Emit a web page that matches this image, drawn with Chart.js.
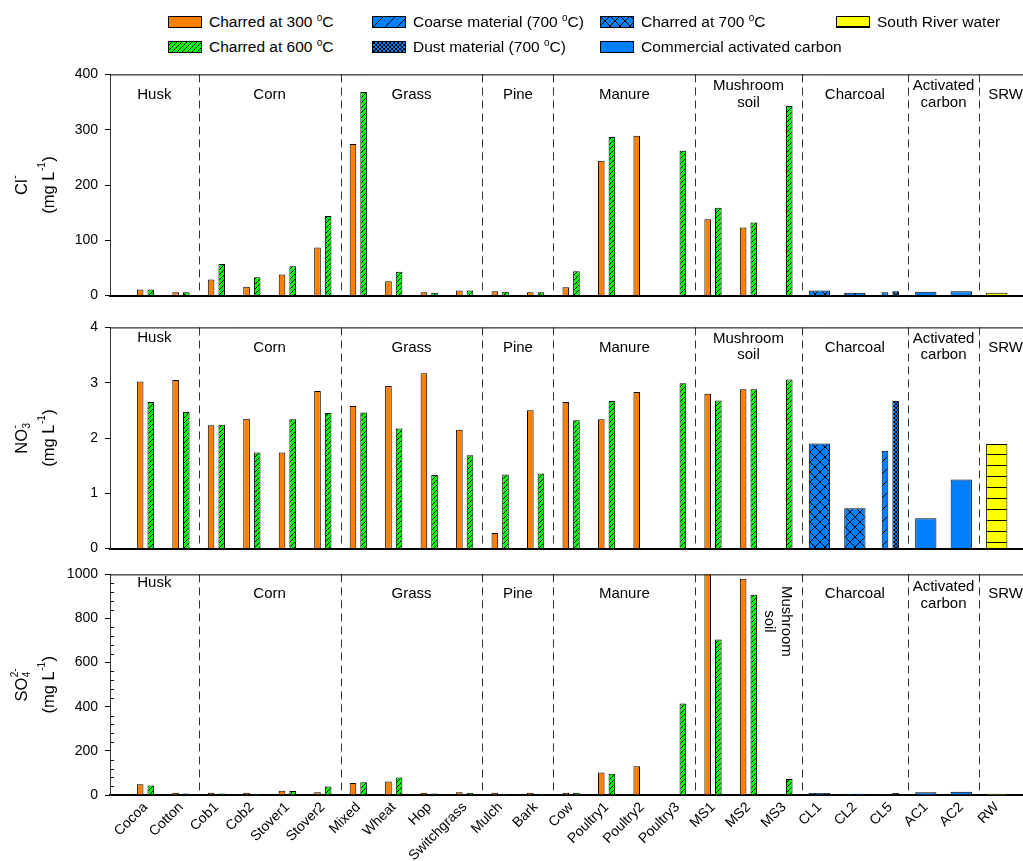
<!DOCTYPE html>
<html>
<head>
<meta charset="utf-8">
<title>Anions released by biochars</title>
<script src="https://cdn.jsdelivr.net/npm/chart.js@4.4.1/dist/chart.umd.min.js"></script>
<style>
  body { margin: 0; background: #fff; font-family: "Liberation Sans", Arial, sans-serif; overflow: hidden; }
  #wrap { position: relative; width: 1023px; height: 861px; overflow: hidden; }
  #wrap > canvas { position: absolute; left: 0; }
  .lg { position: absolute; font-size: 15.5px; line-height: 16px; color: #000; white-space: nowrap; }
  .lg canvas { vertical-align: -1px; margin-right: 7px; }
  .lg sup { font-size: 10px; vertical-align: 6px; line-height: 0; }
</style>
</head>
<body>
<div id="wrap">
  <div id="legend"></div>
  <canvas id="chartCl" width="1023" height="252" style="top:59px"></canvas>
  <canvas id="chartNo3" width="1023" height="252" style="top:312px"></canvas>
  <canvas id="chartSo4" width="1023" height="302" style="top:559px"></canvas>
</div>
<script>
'use strict';
var n = null;
var categories = ['Cocoa', 'Cotton', 'Cob1', 'Cob2', 'Stover1', 'Stover2', 'Mixed', 'Wheat', 'Hop', 'Switchgrass',
	'Mulch', 'Bark', 'Cow', 'Poultry1', 'Poultry2', 'Poultry3', 'MS1', 'MS2', 'MS3', 'CL1', 'CL2', 'CL5', 'AC1', 'AC2', 'RW'];
var groupNames = ['Husk', 'Corn', 'Grass', 'Pine', 'Manure', 'Mushroom\nsoil', 'Charcoal', 'Activated\ncarbon', 'SRW'];
var groupBreaks = [-1, 1.5, 5.5, 9.5, 11.5, 15.5, 18.5, 21.5, 23.5, 25];
var seriesLabels = ['Charred at 300 °C', 'Charred at 600 °C', 'Coarse material (700 °C)', 'Dust material (700 °C)',
	'Charred at 700 °C', 'Commercial activated carbon', 'South River water'];

// Cl- (mg/L)
var cl300 = [11, 6, 29, 16, 38, 87, 274, 26, 6, 9, 8, 6, 15, 244, 289, n, 138, 123, n, n, n, n, n, n, n];
var cl600 = [11, 6, 57, 33, 53, 144, 368, 43, 5, 9, 7, 6, 44, 287, n, 262, 159, 132, 343, n, n, n, n, n, n];
var clCoarse = [n, n, n, n, n, n, n, n, n, n, n, n, n, n, n, n, n, n, n, n, n, 6, n, n, n];
var clDust = [n, n, n, n, n, n, n, n, n, n, n, n, n, n, n, n, n, n, n, n, n, 8, n, n, n];
var cl700 = [n, n, n, n, n, n, n, n, n, n, n, n, n, n, n, n, n, n, n, 9, 5, n, n, n, n];
var clCommercial = [n, n, n, n, n, n, n, n, n, n, n, n, n, n, n, n, n, n, n, n, n, n, 7, 8, n];
var clRiver = [n, n, n, n, n, n, n, n, n, n, n, n, n, n, n, n, n, n, n, n, n, n, n, n, 5];

// NO3- (mg/L)
var no300 = [3.02, 3.05, 2.23, 2.35, 1.74, 2.85, 2.58, 2.94, 3.17, 2.15, 0.28, 2.50, 2.65, 2.34, 2.83, n, 2.80, 2.88, n, n, n, n, n, n, n];
var no600 = [2.65, 2.47, 2.24, 1.74, 2.34, 2.45, 2.46, 2.17, 1.33, 1.69, 1.34, 1.36, 2.32, 2.67, n, 2.99, 2.68, 2.88, 3.06, n, n, n, n, n, n];
var noCoarse = [n, n, n, n, n, n, n, n, n, n, n, n, n, n, n, n, n, n, n, n, n, 1.77, n, n, n];
var noDust = [n, n, n, n, n, n, n, n, n, n, n, n, n, n, n, n, n, n, n, n, n, 2.67, n, n, n];
var no700 = [n, n, n, n, n, n, n, n, n, n, n, n, n, n, n, n, n, n, n, 1.90, 0.73, n, n, n, n];
var noCommercial = [n, n, n, n, n, n, n, n, n, n, n, n, n, n, n, n, n, n, n, n, n, n, 0.55, 1.25, n];
var noRiver = [n, n, n, n, n, n, n, n, n, n, n, n, n, n, n, n, n, n, n, n, n, n, n, n, 1.89];

// SO4 2- (mg/L)
var so300 = [49, 10, 10, 10, 19, 12, 54, 61, 9, 13, 10, 10, 10, 102, 130, n, 1050, 980, n, n, n, n, n, n, n];
var so600 = [43, 7, 7, 6, 18, 39, 58, 79, 7, 9, 6, 6, 10, 96, n, 415, 705, 908, 72, n, n, n, n, n, n];
var soCoarse = [n, n, n, n, n, n, n, n, n, n, n, n, n, n, n, n, n, n, n, n, n, 4, n, n, n];
var soDust = [n, n, n, n, n, n, n, n, n, n, n, n, n, n, n, n, n, n, n, n, n, 9, n, n, n];
var so700 = [n, n, n, n, n, n, n, n, n, n, n, n, n, n, n, n, n, n, n, 9, 6, n, n, n, n];
var soCommercial = [n, n, n, n, n, n, n, n, n, n, n, n, n, n, n, n, n, n, n, n, n, n, 13, 15, n];
var soRiver = [n, n, n, n, n, n, n, n, n, n, n, n, n, n, n, n, n, n, n, n, n, n, n, n, 6];

var FONT = '"Liberation Sans", Arial, sans-serif';
Chart.defaults.font.family = FONT;
Chart.defaults.color = '#000';

// fill patterns
var makePattern = function (bg, size, draw) {
	var c = document.createElement('canvas');
	c.width = size;
	c.height = size;
	var g = c.getContext('2d');
	g.fillStyle = bg;
	g.fillRect(0, 0, size, size);
	if (draw) {
		g.strokeStyle = '#000';
		g.lineWidth = 1;
		g.beginPath();
		draw(g, size);
		g.stroke();
	}
	return g.createPattern(c, 'repeat');
};
var slash = function (g, s) {
	g.moveTo(-1, s + 1); g.lineTo(s + 1, -1);
	g.moveTo(-1, 1); g.lineTo(1, -1);
	g.moveTo(s - 1, s + 1); g.lineTo(s + 1, s - 1);
};
var cross = function (g, s) {
	slash(g, s);
	g.moveTo(-1, -1); g.lineTo(s + 1, s + 1);
	g.moveTo(s - 1, -1); g.lineTo(s + 1, 1);
	g.moveTo(-1, s - 1); g.lineTo(1, s + 1);
};
var rows = function (g, s) {
	g.moveTo(0, s - 0.5); g.lineTo(s, s - 0.5);
};
var fills = [
	'#FF8000',
	makePattern('#00FF00', 5, slash),
	makePattern('#0080FF', 12, slash),
	makePattern('#0080FF', 4, cross),
	makePattern('#0080FF', 10, cross),
	'#0080FF',
	makePattern('#FFFF00', 11, rows)
];
var stacks = ['L', 'R', 'L', 'R', null, null, null];

var titleUnits = [{t: '(mg L'}, {sup: '-1'}, {t: ')'}];
var panels = {
	chartCl: {title: [[{t: 'Cl'}, {sup: '-'}], titleUnits], huskDy: 20, dy: 20, two: [11, 28], rotateMS: false, minor: 0},
	chartNo3: {title: [[{t: 'NO'}, {sub: '3', sup: '-'}], titleUnits], huskDy: 10, dy: 20, two: [11, 27], rotateMS: false, minor: 0},
	chartSo4: {title: [[{t: 'SO'}, {sub: '4', sup: '2-'}], titleUnits], huskDy: 8, dy: 19, two: [12, 29], rotateMS: true, minor: 40}
};

var drawRich = function (ctx, segs, size) {
	var big = size + 'px ' + FONT;
	var small = Math.round(size * 0.62) + 'px ' + FONT;
	var total = 0;
	var widths = segs.map(function (s) {
		var w;
		if (s.t) {
			ctx.font = big;
			w = ctx.measureText(s.t).width;
		} else {
			ctx.font = small;
			w = Math.max(s.sub ? ctx.measureText(s.sub).width : 0, s.sup ? ctx.measureText(s.sup).width : 0) + 1;
		}
		total += w;
		return w;
	});
	var x = -total / 2;
	segs.forEach(function (s, i) {
		if (s.t) {
			ctx.font = big;
			ctx.fillText(s.t, x, 0);
		} else {
			ctx.font = small;
			if (s.sup) ctx.fillText(s.sup, x + 0.5, -size * 0.4);
			if (s.sub) ctx.fillText(s.sub, x + 0.5, size * 0.3);
		}
		x += widths[i];
	});
};

var panelDecor = {
	id: 'panelDecor',
	beforeDatasetsDraw: function (chart) {
		var ctx = chart.ctx, area = chart.chartArea, xs = chart.scales.x;
		ctx.save();
		ctx.strokeStyle = '#333';
		ctx.lineWidth = 1;
		ctx.setLineDash([8, 5]);
		for (var i = 1; i < groupBreaks.length - 1; i++) {
			var px = Math.round(xs.getPixelForValue(groupBreaks[i])) + 0.5;
			ctx.beginPath();
			ctx.moveTo(px, area.top);
			ctx.lineTo(px, area.bottom);
			ctx.stroke();
		}
		ctx.restore();
	},
	afterDraw: function (chart) {
		var ctx = chart.ctx, area = chart.chartArea, xs = chart.scales.x, ys = chart.scales.y;
		var cfg = panels[chart.canvas.id];
		ctx.save();
		// top frame line
		ctx.strokeStyle = '#000';
		ctx.lineWidth = 1;
		ctx.beginPath();
		ctx.moveTo(area.left, area.top + 0.5);
		ctx.lineTo(area.right, area.top + 0.5);
		ctx.stroke();
		// minor ticks inside the axis
		if (cfg.minor) {
			ctx.beginPath();
			for (var v = cfg.minor; v < ys.max; v += cfg.minor) {
				if (v % 200 === 0) continue;
				var py = Math.round(ys.getPixelForValue(v)) + 0.5;
				ctx.moveTo(area.left, py);
				ctx.lineTo(area.left + 4, py);
			}
			ctx.stroke();
		}
		// group names
		ctx.fillStyle = '#000';
		ctx.font = '15px ' + FONT;
		ctx.textAlign = 'center';
		ctx.textBaseline = 'middle';
		groupNames.forEach(function (name, i) {
			var cx = xs.getPixelForValue((groupBreaks[i] + groupBreaks[i + 1]) / 2);
			var lines = name.split('\n');
			if (lines.length === 2 && cfg.rotateMS && i === 5) {
				ctx.save();
				ctx.translate(xs.getPixelForValue(18) + 2, area.top + 47);
				ctx.rotate(Math.PI / 2);
				ctx.fillText(lines[0], 0, 0);
				ctx.fillText(lines[1], 0, 17);
				ctx.restore();
			} else if (lines.length === 2) {
				ctx.fillText(lines[0], cx, area.top + cfg.two[0]);
				ctx.fillText(lines[1], cx, area.top + cfg.two[1]);
			} else {
				ctx.fillText(name, cx, area.top + (i === 0 ? cfg.huskDy : cfg.dy));
			}
		});
		// axis title, two rotated lines
		ctx.textAlign = 'left';
		var cy = (area.top + area.bottom) / 2;
		[22, 49].forEach(function (tx, k) {
			ctx.save();
			ctx.translate(tx, cy);
			ctx.rotate(-Math.PI / 2);
			drawRich(ctx, cfg.title[k], 16.5);
			ctx.restore();
		});
		ctx.restore();
	}
};

var toPoints = function (values) {
	return values.map(function (v, i) {
		return {x: i, y: v};
	});
};

var makePanel = function (id, series, yMax, yStep, withLabels) {
	var datasets = series.map(function (values, k) {
		var grouped = stacks[k] !== null;
		return {
			label: seriesLabels[k],
			data: toPoints(values),
			backgroundColor: fills[k],
			borderColor: '#000',
			borderWidth: 1,
			stack: grouped ? stacks[k] : 'solo' + k,
			grouped: grouped,
			categoryPercentage: 0.6,
			barPercentage: grouped ? 0.62 : 1.0
		};
	});
	return new Chart(document.getElementById(id), {
		type: 'bar',
		data: {datasets: datasets},
		options: {
			responsive: false,
			animation: false,
			events: [],
			layout: {padding: {top: 10, bottom: withLabels ? 0 : 4, left: 0, right: 0}},
			plugins: {legend: {display: false}, tooltip: {enabled: false}},
			scales: {
				x: {
					type: 'linear',
					min: -1,
					max: 24.74,
					offset: false,
					grid: {drawOnChartArea: false, drawTicks: false},
					border: {color: '#000', width: 2},
					ticks: {
						display: withLabels,
						stepSize: 1,
						includeBounds: false,
						autoSkip: false,
						minRotation: 45,
						maxRotation: 45,
						padding: 4,
						font: {size: 14},
						color: '#000',
						callback: function (v) {
							return categories[v] || '';
						}
					},
					afterBuildTicks: function (scale) {
						scale.ticks = scale.ticks.filter(function (t) {
							return Number.isInteger(t.value) && t.value >= 0 && t.value < categories.length;
						});
					},
					afterFit: function (scale) {
						scale.height = withLabels ? 66 : 0;
					}
				},
				y: {
					min: 0,
					max: yMax,
					grid: {drawOnChartArea: false, drawTicks: true, tickLength: 5, color: '#000'},
					border: {color: '#333', width: 1},
					ticks: {
						stepSize: yStep,
						padding: 7,
						font: {size: 14},
						color: '#000',
						callback: function (v) {
							return String(v);
						}
					},
					afterFit: function (scale) {
						scale.width = 110;
					}
				}
			}
		},
		plugins: [panelDecor]
	});
};

makePanel('chartCl', [cl300, cl600, clCoarse, clDust, cl700, clCommercial, clRiver], 400, 100, false);
makePanel('chartNo3', [no300, no600, noCoarse, noDust, no700, noCommercial, noRiver], 4, 1, false);
makePanel('chartSo4', [so300, so600, soCoarse, soDust, so700, soCommercial, soRiver], 1000, 200, true);

// legend, two rows
var legendSlots = [[168, 14], [168, 39], [372, 14], [372, 39], [600, 14], [600, 39], [836, 14]];
var legendBox = document.getElementById('legend');
seriesLabels.forEach(function (label, k) {
	var item = document.createElement('div');
	item.className = 'lg';
	item.style.left = legendSlots[k][0] + 'px';
	item.style.top = legendSlots[k][1] + 'px';
	var sw = document.createElement('canvas');
	sw.width = 34;
	sw.height = 12;
	var g = sw.getContext('2d');
	g.fillStyle = fills[k];
	g.fillRect(0, 0, 34, 12);
	g.strokeStyle = '#000';
	g.lineWidth = 1;
	g.strokeRect(0.5, 0.5, 33, 11);
	item.appendChild(sw);
	var txt = document.createElement('span');
	txt.innerHTML = label.replace(' °C', ' <sup>o</sup>C');
	item.appendChild(txt);
	legendBox.appendChild(item);
});
</script>
</body>
</html>
